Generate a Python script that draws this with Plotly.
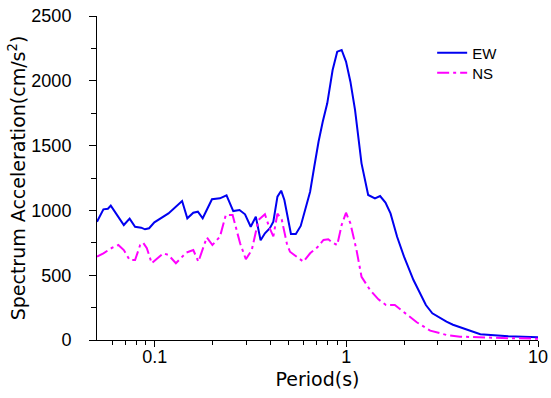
import plotly.graph_objects as go

ew_period = [0.05, 0.054, 0.057, 0.059, 0.069, 0.074, 0.079, 0.085, 0.089, 0.0935, 0.0996,
             0.118, 0.139, 0.148, 0.159, 0.168, 0.178, 0.199, 0.219, 0.237, 0.257, 0.277,
             0.296, 0.317, 0.337, 0.357, 0.376, 0.399, 0.416, 0.437, 0.457, 0.475, 0.514,
             0.545, 0.578, 0.615, 0.647, 0.68, 0.716, 0.753, 0.795, 0.848, 0.896, 0.945,
             0.996, 1.05, 1.11, 1.20, 1.30, 1.41, 1.50, 1.60, 1.70, 1.84, 2.0, 2.24, 2.6,
             2.81, 3.33, 3.6, 3.92, 5.0, 7.0, 10.0]
ew_acc = [913, 1008, 1013, 1037, 887, 936, 874, 867, 854, 862, 908,
          977, 1072, 939, 982, 990, 939, 1086, 1093, 1116, 995, 1003,
          970, 874, 951, 769, 823, 862, 913, 1106, 1152, 1080, 818,
          818, 880, 1029, 1144, 1337, 1530, 1684, 1826, 2083, 2225, 2238,
          2148, 1993, 1775, 1363, 1119, 1093, 1111, 1060, 977, 797, 643, 463, 270,
          206, 141, 118, 98, 44, 28, 21]

ns_period = [0.05, 0.054, 0.06, 0.0646, 0.069, 0.074, 0.079, 0.084, 0.087, 0.091, 0.0965,
             0.111, 0.118, 0.129, 0.146, 0.159, 0.169, 0.187, 0.2, 0.219, 0.235, 0.255,
             0.279, 0.299, 0.321, 0.348, 0.376, 0.395, 0.416, 0.437, 0.46, 0.489, 0.508,
             0.55, 0.597, 0.647, 0.706, 0.76, 0.805, 0.848, 0.896, 0.945, 0.996, 1.05,
             1.13, 1.20, 1.33, 1.47, 1.61, 1.79, 2.02, 2.33, 2.74, 3.33, 3.92, 5.0, 7.0, 10.0]
ns_acc = [643, 669, 712, 733, 694, 617, 617, 733, 751, 708, 592,
          669, 656, 592, 674, 694, 604, 792, 733, 797, 965, 965,
          746, 623, 694, 926, 970, 874, 800, 975, 931, 746, 681,
          643, 604, 669, 715, 772, 777, 751, 733, 887, 982, 900,
          694, 488, 386, 314, 270, 270, 206, 137, 72, 39, 26, 20, 14, 10]

x_tickvals = [0.1, 1, 10]
x_ticktext = ["0.1", "1", "10"]
y_tickvals = [0, 500, 1000, 1500, 2000, 2500]

TICKFONT = "Liberation Sans, Arial, sans-serif"
TITLEFONT = "DejaVu Sans, sans-serif"

fig = go.Figure()
fig.add_trace(go.Scatter(x=ew_period, y=ew_acc, mode="lines", name="EW", legend="legend",
                         line=dict(color="#0000F0", width=2)))
fig.add_trace(go.Scatter(x=ns_period, y=ns_acc, mode="lines", name="NS", legend="legend2",
                         line=dict(color="#FF00FF", width=2, dash="12px,4px,3px,4px")))

leg_common = dict(xanchor="left", yanchor="top", bgcolor="rgba(0,0,0,0)",
                  font=dict(size=15, family=TICKFONT, color="black"))

fig.update_layout(
    width=551, height=398,
    margin=dict(l=97, r=13, t=16, b=58, autoexpand=False),
    paper_bgcolor="white", plot_bgcolor="white",
    font=dict(family=TICKFONT, size=18, color="black"),
    showlegend=True,
    legend=dict(x=0.76, y=0.937, **leg_common),
    legend2=dict(x=0.76, y=0.875, **leg_common),
)
fig.update_xaxes(
    type="log", range=[-1.30103, 1], automargin=False,
    showline=True, linecolor="black", linewidth=1, mirror=False,
    showgrid=False, zeroline=False,
    tickvals=x_tickvals, ticktext=x_ticktext,
    ticks="outside", ticklen=6, tickcolor="black",
    minor=dict(ticks="outside", ticklen=4, tickcolor="black",
               tickvals=[0.06, 0.07, 0.08, 0.09, 0.2, 0.3, 0.4, 0.5, 0.6, 0.7, 0.8, 0.9,
                         2, 3, 4, 5, 6, 7, 8, 9]),
    title=dict(text="Period(s)", standoff=7, font=dict(size=19, family=TITLEFONT)),
    tickfont=dict(size=18, family=TICKFONT),
    ticklabelstandoff=-6,
)
fig.update_yaxes(
    range=[0, 2500], automargin=False,
    showline=True, linecolor="black", linewidth=1,
    showgrid=False, zeroline=False,
    tickvals=y_tickvals,
    ticks="outside", ticklen=7, tickcolor="black",
    minor=dict(ticks="outside", ticklen=5, tickcolor="black", dtick=250),
    title=dict(text="Spectrum Acceleration(cm/s<sup>2</sup>)", standoff=0,
               font=dict(size=19, family=TITLEFONT)),
    tickfont=dict(size=18, family=TICKFONT),
    ticklabelstandoff=14,
)

fig.write_html("out.html", config={"displayModeBar": False},
               post_script="document.body.style.margin='0';")
